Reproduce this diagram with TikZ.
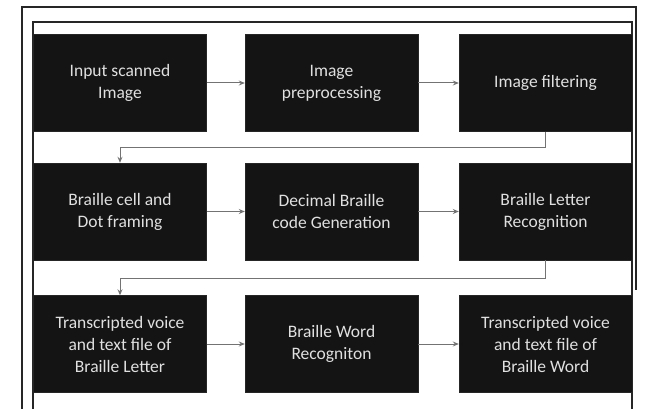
\documentclass[tikz,border=0pt]{standalone}
\usepackage{fontspec}
\setmainfont{Carlito}
\usetikzlibrary{arrows.meta}
\begin{document}
\begin{tikzpicture}[x=1pt,y=-1pt,
  procbox/.style={draw=black!85,fill=black!92,text=white!88!black,minimum width=173pt,minimum height=97pt,inner sep=2pt,align=center,font=\fontsize{17.5}{22}\selectfont},
  flow/.style={draw=black!55,line width=1pt,-{Stealth[length=6pt,width=5pt,open]}},
  frame/.style={draw=black!85,line width=1.3pt}]
\useasboundingbox (0,0) rectangle (648,409);
\fill[white] (0,0) rectangle (648,409);
% outer frame
\draw[frame] (22,409) -- (22,7) -- (636,7) -- (636,290);
% inner frame
\draw[frame] (33,409) -- (33,22) -- (632,22) -- (632,409);
% boxes
\node[procbox] (a1) at (120,83)   {Input scanned\\Image};
\node[procbox] (a2) at (331.5,83) {Image\\preprocessing};
\node[procbox] (a3) at (545.5,83) {Image filtering};
\node[procbox] (b1) at (120,211.5)   {Braille cell and\\Dot framing};
\node[procbox] (b2) at (331.5,211.5) {Decimal Braille\\code Generation};
\node[procbox] (b3) at (545.5,211.5) {Braille Letter\\Recognition};
\node[procbox] (c1) at (120,344)   {Transcripted voice\\and text file of\\Braille Letter};
\node[procbox] (c2) at (331.5,344) {Braille Word\\Recogniton};
\node[procbox] (c3) at (545.5,344) {Transcripted voice\\and text file of\\Braille Word};
% connectors
\draw[flow] (a1) -- (a2);
\draw[flow] (a2) -- (a3);
\draw[flow] (b1) -- (b2);
\draw[flow] (b2) -- (b3);
\draw[flow] (c1) -- (c2);
\draw[flow] (c2) -- (c3);
\draw[flow] (a3.south) -- ++(0,16) -| (b1.north);
\draw[flow] (b3.south) -- ++(0,18) -| (c1.north);
\end{tikzpicture}
\end{document}
